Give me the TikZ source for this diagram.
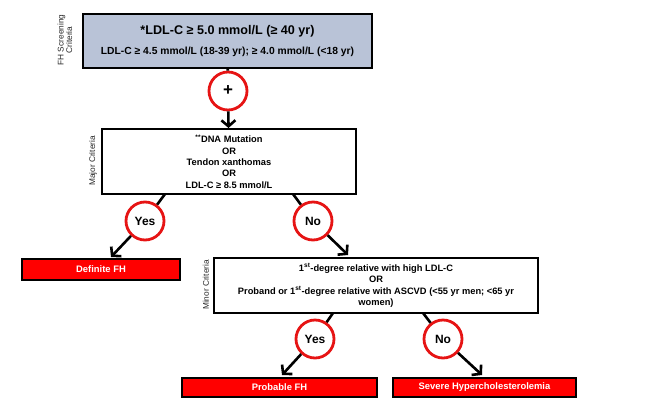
\documentclass[tikz,border=0pt]{standalone}
\usepackage{fontspec}
\setmainfont{Liberation Sans}
\usetikzlibrary{arrows.meta}
\definecolor{boxblue}{RGB}{185,195,215}
\definecolor{ringred}{RGB}{230,20,20}
\begin{document}
\begin{tikzpicture}[x=1pt,y=-1pt,
  crit/.style={draw=black, line width=2pt, fill=white, align=center,
    font=\bfseries\fontsize{9.3}{11.3}\selectfont, inner sep=0pt},
  res/.style={draw=black, line width=2pt, fill=red, text=white,
    font=\bfseries\fontsize{9.4}{10}\selectfont, inner sep=0pt},
  ring/.style={circle, draw=ringred, line width=2.8pt, fill=white,
    minimum size=38pt, inner sep=0pt, font=\bfseries\fontsize{12}{12}\selectfont},
  conn/.style={line width=2.6pt, black},
  arr/.style={conn, -{Straight Barb[length=6pt,width=14pt,line width=2.6pt]}},
  side/.style={rotate=90, font=\fontsize{8.3}{8.5}\selectfont, align=center, text=black!85}]
\useasboundingbox (0,0) rectangle (647,418);

% boxes
\node[crit, fill=boxblue, minimum width=289pt, minimum height=54pt] (top) at (227.5,41)
  {\fontsize{12.6}{14}\selectfont *LDL-C ≥ 5.0 mmol/L (≥ 40 yr)\\[8pt]
   \fontsize{10.3}{11}\selectfont LDL-C ≥ 4.5 mmol/L (18-39 yr); ≥ 4.0 mmol/L (<18 yr)};
\node[crit, minimum width=254pt, minimum height=65pt] (major) at (229,161.5)
  {\textsuperscript{**}DNA Mutation\\OR\\Tendon xanthomas\\OR\\LDL-C ≥ 8.5 mmol/L};
\node[crit, minimum width=324pt, minimum height=55pt] (minor) at (376,285.5)
  {1\textsuperscript{st}-degree relative with high LDL-C\\OR\\
   Proband or 1\textsuperscript{st}-degree relative with ASCVD (<55 yr men; <65 yr\\women)};
\node[res, minimum width=158pt, minimum height=21pt] (def) at (101,269.5) {Definite FH};
\node[res, minimum width=195pt, minimum height=19pt] (prob) at (279.5,387.5) {Probable FH};
\node[res, minimum width=183pt, minimum height=19pt] (sev) at (484.5,387.5) {Severe Hypercholesterolemia};

% side labels
\node[side] (lab1) at (65,40) {FH Screening\\Criteria};
\node[side] (lab2) at (93,161) {Major Criteria};
\node[side] (lab3) at (206,285) {Minor Criteria};

% decision rings
\node[ring, font=\bfseries\fontsize{17}{18}\selectfont] (plus) at (228,91) {+};
\node[ring] (yes1) at (145,221) {Yes};
\node[ring] (no1) at (313,221) {No};
\node[ring] (yes2) at (315,339) {Yes};
\node[ring] (no2) at (443,339) {No};

% connector ends
\coordinate (m1) at (165,194);
\coordinate (m2) at (293,194);
\coordinate (n1) at (333,313);
\coordinate (n2) at (423,313);
\coordinate (t1) at (111,257);
\coordinate (t2) at (348,255);
\coordinate (t3) at (282,375);
\coordinate (t4) at (482,375);

% connectors
\draw[conn] (top) -- (plus);
\draw[arr] (plus) -- (major);
\draw[conn] (m1) -- (yes1);
\draw[arr] (yes1) -- (t1);
\draw[conn] (m2) -- (no1);
\draw[arr] (no1) -- (t2);
\draw[conn] (n1) -- (yes2);
\draw[arr] (yes2) -- (t3);
\draw[conn] (n2) -- (no2);
\draw[arr] (no2) -- (t4);
\end{tikzpicture}
\end{document}
